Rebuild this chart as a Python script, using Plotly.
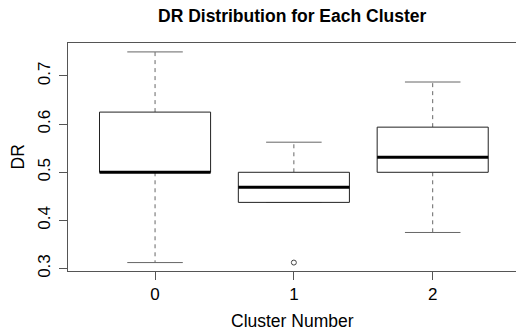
import plotly.graph_objects as go

clusters = [0, 1, 2]
tick_labels = ["0", "1", "2"]
lower_whisker = [0.3125, 0.4375, 0.375]
q1 = [0.5, 0.4375, 0.5]
median = [0.5, 0.46875, 0.53125]
q3 = [0.625, 0.5, 0.59375]
upper_whisker = [0.75, 0.5625, 0.6875]
outlier_cluster = [1]
outlier_value = [0.3125]

BOX_HALF = 0.4
CAP_HALF = 0.2
FONT = "Liberation Sans, Arial, sans-serif"
WHISK_COLOR = "#666666"
BOX_COLOR = "#222222"
W, H = 516, 331
ML, MR, MT, MB = 68, 0, 43, 60

fig = go.Figure()
for i, c in enumerate(clusters):
    fig.add_trace(go.Scatter(x=[c, c, None, c, c], y=[q3[i], upper_whisker[i], None, q1[i], lower_whisker[i]],
                             mode="lines", line=dict(color=WHISK_COLOR, width=1, dash="4px,4px"),
                             hoverinfo="skip", showlegend=False))
    fig.add_trace(go.Scatter(x=[c - CAP_HALF, c + CAP_HALF, None, c - CAP_HALF, c + CAP_HALF],
                             y=[upper_whisker[i], upper_whisker[i], None, lower_whisker[i], lower_whisker[i]],
                             mode="lines", line=dict(color=WHISK_COLOR, width=1),
                             hoverinfo="skip", showlegend=False))
    fig.add_trace(go.Scatter(x=[c - BOX_HALF, c + BOX_HALF, c + BOX_HALF, c - BOX_HALF, c - BOX_HALF],
                             y=[q1[i], q1[i], q3[i], q3[i], q1[i]],
                             mode="lines", line=dict(color=BOX_COLOR, width=1),
                             fill="toself", fillcolor="white",
                             hoverinfo="skip", showlegend=False))
    fig.add_trace(go.Scatter(x=[c - BOX_HALF, c + BOX_HALF], y=[median[i], median[i]],
                             mode="lines", line=dict(color="black", width=3),
                             hoverinfo="skip", showlegend=False))

fig.add_trace(go.Scatter(x=outlier_cluster, y=outlier_value, mode="markers",
                         marker=dict(symbol="circle-open", size=5, color="#444444", line=dict(width=1)),
                         hoverinfo="skip", showlegend=False))

fig.update_layout(
    width=W, height=H,
    margin=dict(l=ML, r=MR, t=MT, b=MB, autoexpand=False),
    paper_bgcolor="white", plot_bgcolor="white",
    font=dict(family=FONT, size=17, color="black"),
    showlegend=False,
    annotations=[
        dict(text="<b>DR Distribution for Each Cluster</b>", xref="paper", yref="paper",
             x=0.5, y=1 + (MT - 16) / (H - MT - MB), xanchor="center", yanchor="middle",
             showarrow=False, font=dict(family=FONT, size=17.5, color="black")),
        dict(text="Cluster Number", xref="paper", yref="paper",
             x=0.5, y=-(321 - (H - MB)) / (H - MT - MB), xanchor="center", yanchor="middle",
             showarrow=False, font=dict(family=FONT, size=17.5, color="black")),
        dict(text="DR", xref="paper", yref="paper", textangle=-90,
             x=-(ML - 17.5) / (W - ML - MR), y=0.5, xanchor="center", yanchor="middle",
             showarrow=False, font=dict(family=FONT, size=17.5, color="black")),
    ],
)
fig.update_xaxes(range=[-0.627, 2.6], tickvals=clusters, ticktext=tick_labels, automargin=False,
                 showgrid=False, zeroline=False, showline=True, mirror=True,
                 linecolor="#555555", linewidth=1, ticks="outside", ticklen=8,
                 tickcolor="#555555", tickfont=dict(size=17))
fig.update_yaxes(range=[0.295, 0.7685], tickvals=[0.3, 0.4, 0.5, 0.6, 0.7], automargin=False,
                 ticktext=["0.3", "0.4", "0.5", "0.6", "0.7"], tickangle=-90,
                 showgrid=False, zeroline=False, showline=True,
                 linecolor="#555555", linewidth=1, ticks="outside", ticklen=8,
                 tickcolor="#555555", tickfont=dict(size=17), ticklabelstandoff=2)

fig.write_html("out.html", config={"displayModeBar": False},
               post_script="document.body.style.margin='0';")
